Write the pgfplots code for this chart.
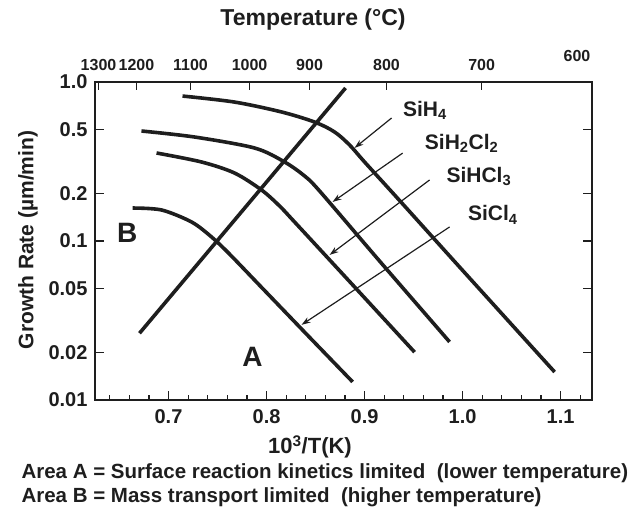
\documentclass[border=0pt]{standalone}
\usepackage{fontspec}
\setmainfont{Liberation Sans}
\usepackage{pgfplots}
\pgfplotsset{compat=1.18}
\usetikzlibrary{arrows.meta}
\definecolor{ink}{HTML}{1E1E1E}

\newcommand{\fs}[1]{\fontsize{#1}{#1}\selectfont\bfseries}

\begin{document}
\begin{tikzpicture}[x=1pt,y=1pt,font=\bfseries]
\path[use as bounding box] (0,0) rectangle (636,514);

% top temperature scale
\begin{axis}[
  at={(95pt,114pt)}, anchor=south west,
  scale only axis, width=497pt, height=318pt,
  xmin=0.625, xmax=1.132, ymin=0, ymax=1,
  axis x line*=top, hide y axis,
  axis line style={line width=1.4pt, ink},
  xtick={0.6286,0.6673,0.7224,0.7827,0.8439,0.9224,1.0194},
  xticklabels={1300,1200,1100,1000,900,800,700},
  xtick align=inside,
  major tick length=8pt,
  tick style={line width=1.2pt, ink},
  ticklabel style={font=\fs{16}, text=ink},
  x tick label style={yshift=8pt},
  /pgf/number format/assume math mode=true,
]
\end{axis}

\begin{axis}[
  at={(95pt,114pt)}, anchor=south west,
  scale only axis, width=497pt, height=318pt,
  xmin=0.625, xmax=1.132,
  ymode=log, ymin=0.01, ymax=1.0,
  axis line style={line width=1.4pt, ink},
  xtick={0.7,0.8,0.9,1.0,1.1},
  xticklabels={0.7,0.8,0.9,1.0,1.1},
  minor xtick={0.64,0.66,0.68,0.72,0.74,0.76,0.78,0.82,0.84,0.86,0.88,
               0.92,0.94,0.96,0.98,1.02,1.04,1.06,1.08,1.12},
  xtick pos=bottom,
  ytick={0.01,0.02,0.05,0.1,0.2,0.5,1},
  yticklabels={0.01,0.02,0.05,0.1,0.2,0.5,1.0},
  yminorticks=false,
  ytick pos=both,
  tick align=inside,
  major tick length=9pt, minor tick length=5pt,
  tick style={line width=1.2pt, ink},
  ticklabel style={font=\fs{20}, text=ink},
  x tick label style={yshift=-6pt},
  y tick label style={xshift=-4pt},
  /pgf/number format/assume math mode=true,
  clip=false,
]
% SiH4
\addplot[ink, line width=3.6pt, smooth, tension=0.5] coordinates {
  (0.7143,0.816) (0.7673,0.748) (0.8153,0.648) (0.849,0.560) (0.8694,0.485)
  (0.8847,0.4016) (0.9,0.3140) (0.9357,0.1798) (0.9969,0.0686) (1.0939,0.0150)};
% SiH2Cl2
\addplot[ink, line width=3.6pt, smooth, tension=0.5] coordinates {
  (0.6724,0.4918) (0.7265,0.4509) (0.7878,0.3845) (0.8184,0.3140) (0.8388,0.2563)
  (0.8541,0.2063) (0.9153,0.0748) (0.9867,0.0232)};
% SiHCl3
\addplot[ink, line width=3.6pt, smooth, tension=0.5] coordinates {
  (0.6878,0.3577) (0.7337,0.3140) (0.7673,0.2677) (0.7949,0.2093) (0.8133,0.1660)
  (0.8286,0.1317) (0.8898,0.0514) (0.951,0.0200)};
% SiCl4
\addplot[ink, line width=3.6pt, smooth, tension=0.5] coordinates {
  (0.6633,0.1612) (0.6929,0.1567) (0.7235,0.1317) (0.7439,0.1060) (0.7622,0.0828)
  (0.7949,0.0511) (0.8418,0.02556) (0.8878,0.0130)};
% boundary between regions A and B
\addplot[ink, line width=3.6pt] coordinates {(0.6704,0.0263) (0.8806,0.917)};

% pointers
\draw[ink, line width=1.2pt, -{Stealth[length=9pt,width=6pt]}]
  (axis cs:0.9276,0.594) -- (axis cs:0.8898,0.385);
\draw[ink, line width=1.2pt, -{Stealth[length=9pt,width=6pt]}]
  (axis cs:0.9388,0.357) -- (axis cs:0.8673,0.176);
\draw[ink, line width=1.2pt, -{Stealth[length=9pt,width=6pt]}]
  (axis cs:0.9663,0.242) -- (axis cs:0.8643,0.0817);
\draw[ink, line width=1.2pt, -{Stealth[length=9pt,width=6pt]}]
  (axis cs:0.9867,0.1225) -- (axis cs:0.8357,0.0297);

\node[anchor=west, text=ink, font=\fs{21}] at (axis cs:0.9357,0.667) {SiH\textsubscript{4}};
\node[anchor=west, text=ink, font=\fs{21}] at (axis cs:0.958,0.413) {SiH\textsubscript{2}Cl\textsubscript{2}};
\node[anchor=west, text=ink, font=\fs{21}] at (axis cs:0.980,0.253) {SiHCl\textsubscript{3}};
\node[anchor=west, text=ink, font=\fs{21}] at (axis cs:1.002,0.146) {SiCl\textsubscript{4}};
\node[text=ink, font=\fs{28}] at (axis cs:0.658,0.112) {B};
\node[text=ink, font=\fs{28}] at (axis cs:0.7857,0.0186) {A};
\end{axis}

\node[text=ink, font=\fs{23}] at (313,494) {Temperature (°C)};
\node[text=ink, font=\fs{16}] at (577,458) {600};
\node[text=ink, font=\fs{21}, rotate=90] at (28,274) {Growth Rate (µm/min)};
\node[text=ink, font=\fs{22}] at (310,67) {10\textsuperscript{3}/T(K)};
\node[anchor=west, text=ink, font=\fs{20.5}] at (18,41)
  {Area A = Surface reaction kinetics limited\ \ (lower temperature)};
\node[anchor=west, text=ink, font=\fs{20.5}] at (18,17)
  {Area B = Mass transport limited\ \ (higher temperature)};
\end{tikzpicture}
\end{document}
